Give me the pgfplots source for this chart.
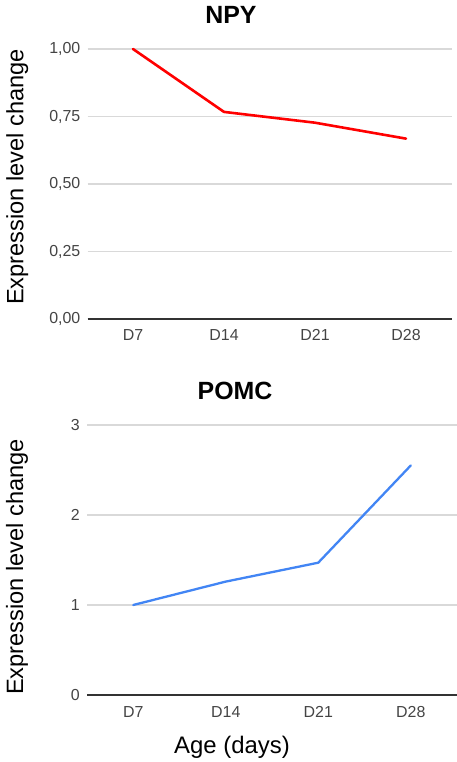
\documentclass[border=0pt]{standalone}
\usepackage{pgfplots}
\pgfplotsset{compat=1.18}
\usepackage{fontspec}
\setmainfont{Liberation Sans}
\definecolor{gridc}{HTML}{D9D9D9}
\definecolor{basec}{HTML}{333333}
\definecolor{tickc}{HTML}{444444}
\definecolor{npyred}{HTML}{FF0000}
\definecolor{pomcblue}{HTML}{4285F4}
\pgfplotsset{
  every axis title shift=0pt,
  panel/.style={
    scale only axis,
    clip=false,
    axis line style={draw=none},
    major tick length=0pt,
    xmin=-0.5, xmax=3.5,
    xtick={0,1,2,3},
    xticklabels={D7,D14,D21,D28},
    ymajorgrids,
    grid style={gridc, line width=1.2bp},
    /pgf/number format/assume math mode=true,
    tick label style={font=\fontsize{16}{19}\selectfont, text=tickc, inner sep=0pt},
    yticklabel style={anchor=east, xshift=-7bp},
    xticklabel style={anchor=base, yshift=-22bp},
    title style={font=\fontsize{25}{29}\selectfont\bfseries, anchor=center, xshift=0pt, yshift=0pt},
    ylabel style={font=\fontsize{23.7}{28}\selectfont, anchor=center, xshift=0pt, yshift=0pt},
    xlabel style={font=\fontsize{24}{28}\selectfont, anchor=center, xshift=0pt, yshift=0pt},
  }
}
\begin{document}
\begin{tikzpicture}
\useasboundingbox (0,0) rectangle (457bp,762bp);
% Top panel: NPY
\begin{axis}[panel,
  at={(87.5bp,443bp)}, anchor=south west,
  width=364bp, height=270bp,
  ymin=0, ymax=1,
  ytick={0,0.25,0.5,0.75,1},
  yticklabels={{0,00},{0,25},{0,50},{0,75},{1,00}},
  title={NPY},
  title style={at={(rel axis cs:0.394,1.126)}},
  ylabel={Expression level change},
  ylabel style={at={(rel axis cs:-0.193,0.526)}},
]
\draw[basec, line width=1.6bp] (axis cs:-0.5,0) -- (axis cs:3.5,0);
\addplot[npyred, line width=2.6bp, line join=round, line cap=round] coordinates {(0,1.00) (1,0.767) (2,0.727) (3,0.668)};
\end{axis}
% Bottom panel: POMC
\begin{axis}[panel,
  at={(87bp,67bp)}, anchor=south west,
  width=370bp, height=270bp,
  ymin=0, ymax=3,
  ytick={0,1,2,3},
  yticklabels={0,1,2,3},
  title={POMC},
  title style={at={(rel axis cs:0.40,1.126)}},
  ylabel={Expression level change},
  ylabel style={at={(rel axis cs:-0.189,0.474)}},
  xlabel={Age (days)},
  xlabel style={at={(rel axis cs:0.392,-0.193)}},
]
\draw[basec, line width=1.6bp] (axis cs:-0.5,0) -- (axis cs:3.5,0);
\addplot[pomcblue, line width=2.3bp, line join=round, line cap=round] coordinates {(0,1.00) (1,1.26) (2,1.47) (3,2.55)};
\end{axis}
\end{tikzpicture}
\end{document}
